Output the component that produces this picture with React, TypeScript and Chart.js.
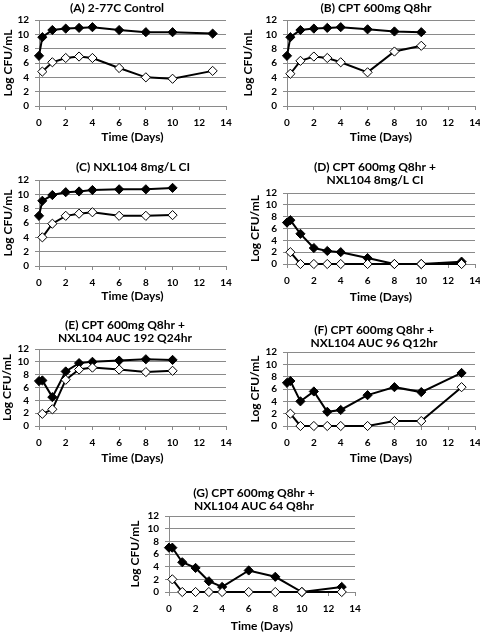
import React, { useEffect, useRef } from "react";
import { Chart, registerables } from "chart.js";

Chart.register(...registerables);

// ---------- data ----------
const daysTo13 = [0, 0.25, 1, 2, 3, 4, 6, 8, 10, 13];
const daysOpenTo13 = [0.25, 1, 2, 3, 4, 6, 8, 10, 13];
const daysTo10 = [0, 0.25, 1, 2, 3, 4, 6, 8, 10];
const daysOpenTo10 = [0.25, 1, 2, 3, 4, 6, 8, 10];

const xTicks = [0, 2, 4, 6, 8, 10, 12, 14];
const yTicks = [0, 2, 4, 6, 8, 10, 12];

const titleA = ["(A) 2-77C Control"];
const titleB = ["(B) CPT 600mg Q8hr"];
const titleC = ["(C) NXL104 8mg/L CI"];
const titleD = ["(D) CPT 600mg Q8hr +", "NXL104 8mg/L CI"];
const titleE = ["(E) CPT 600mg Q8hr +", "NXL104 AUC 192 Q24hr"];
const titleF = ["(F) CPT 600mg Q8hr +", "NXL104 AUC 96 Q12hr"];
const titleG = ["(G) CPT 600mg Q8hr +", "NXL104 AUC 64 Q8hr"];

const aFilled = [7.0, 9.6, 10.6, 10.8, 10.9, 11.0, 10.6, 10.3, 10.3, 10.1];
const aOpen = [4.8, 6.1, 6.7, 6.9, 6.7, 5.3, 4.0, 3.8, 4.9];
const bFilled = [7.0, 9.6, 10.6, 10.8, 10.9, 11.0, 10.7, 10.4, 10.3];
const bOpen = [4.5, 6.3, 6.9, 6.7, 6.1, 4.7, 7.6, 8.4];
const cFilled = [7.0, 9.1, 9.9, 10.3, 10.4, 10.6, 10.7, 10.7, 10.9];
const cOpen = [4.0, 5.9, 7.0, 7.3, 7.5, 7.0, 7.0, 7.1];
const dFilled = [7.0, 7.4, 5.1, 2.7, 2.2, 2.0, 1.0, 0, 0, 0.4];
const dOpen = [2.0, 0, 0, 0, 0, 0, 0, 0, 0];
const eFilled = [7.0, 7.1, 4.5, 8.5, 9.8, 10.0, 10.2, 10.4, 10.3];
const eOpen = [1.9, 2.6, 7.2, 8.8, 9.1, 8.8, 8.4, 8.6];
const fFilled = [7.0, 7.3, 4.0, 5.6, 2.3, 2.6, 5.0, 6.3, 5.5, 8.6];
const fOpen = [2.0, 0, 0, 0, 0, 0, 0.8, 0.8, 6.3];
const gFilled = [7.0, 7.0, 4.7, 3.8, 1.7, 0.8, 3.4, 2.4, 0, 0.8];
const gOpen = [2.0, 0, 0, 0, 0, 0, 0, 0, 0];

// ---------- layout (positions / sizes only) ----------
type PanelCfg = {
  title: string[];
  fx: number[];
  fy: number[];
  ox: number[];
  oy: number[];
  L: number; T: number; W: number; H: number;
  yw: number; padR: number; xh: number;
  tTop: number; tBot: number; yTitleTop: number; xTitleBot: number;
};

const panels: PanelCfg[] = [
  { title: titleA, fx: daysTo13, fy: aFilled, ox: daysOpenTo13, oy: aOpen,
    L: 0, T: 0, W: 234, H: 150, yw: 39, padR: 8, xh: 44, tTop: 1.5, tBot: 5.5, yTitleTop: 0.8, xTitleBot: 5.8 },
  { title: titleB, fx: daysTo10, fy: bFilled, ox: daysOpenTo10, oy: bOpen,
    L: 240, T: 0, W: 272, H: 150, yw: 47, padR: 37, xh: 44, tTop: 1.5, tBot: 5.5, yTitleTop: 0.8, xTitleBot: 5.8 },
  { title: titleC, fx: daysTo10, fy: cFilled, ox: daysOpenTo10, oy: cOpen,
    L: 0, T: 155, W: 266, H: 150, yw: 39, padR: 40, xh: 39, tTop: 5.5, tBot: 6.5, yTitleTop: 0.8, xTitleBot: 1.8 },
  { title: titleD, fx: daysTo13, fy: dFilled, ox: daysOpenTo13, oy: dOpen,
    L: 240, T: 155, W: 270, H: 150, yw: 47, padR: 35, xh: 41, tTop: 5.5, tBot: 6.5, yTitleTop: 7.8, xTitleBot: 1.1 },
  { title: titleE, fx: daysTo10, fy: eFilled, ox: daysOpenTo10, oy: eOpen,
    L: 0, T: 310, W: 250, H: 160, yw: 39, padR: 24, xh: 44, tTop: 8.5, tBot: 4.5, yTitleTop: 0.1, xTitleBot: 4.8 },
  { title: titleF, fx: daysTo13, fy: fFilled, ox: daysOpenTo13, oy: fOpen,
    L: 240, T: 310, W: 268, H: 160, yw: 47, padR: 33, xh: 44, tTop: 13.5, tBot: 2.5, yTitleTop: 7.8, xTitleBot: 4.8 },
  { title: titleG, fx: daysTo13, fy: gFilled, ox: daysOpenTo13, oy: gOpen,
    L: 120, T: 475, W: 268, H: 158, yw: 49, padR: 33, xh: 41, tTop: 11.5, tBot: 3.5, yTitleTop: 7.8, xTitleBot: 0 },
];

const FONT = 'Lato, "Open Sans", "DejaVu Sans", sans-serif';
const AXIS_GRAY = "#8a8a8a";

function zip(xs: number[], ys: number[]) {
  return ys.map((y, i) => ({ x: xs[i], y }));
}

function Panel({ cfg }: { cfg: PanelCfg }) {
  const ref = useRef<HTMLCanvasElement>(null);
  useEffect(() => {
    if (!ref.current) return;
    const chart = new Chart(ref.current, {
      type: "line",
      data: {
        datasets: [
          {
            data: zip(cfg.ox, cfg.oy),
            order: 1,
            borderColor: "#000",
            backgroundColor: "#fff",
            pointBackgroundColor: "#fff",
            pointBorderColor: "#000",
            pointStyle: "rectRot",
            pointRadius: 4.6,
            pointBorderWidth: 1,
            borderWidth: 2,
            clip: false,
          },
          {
            data: zip(cfg.fx, cfg.fy),
            order: 2,
            borderColor: "#000",
            backgroundColor: "#000",
            pointBackgroundColor: "#000",
            pointBorderColor: "#000",
            pointStyle: "rectRot",
            pointRadius: 4.6,
            pointBorderWidth: 1,
            borderWidth: 2,
            clip: false,
          },
        ],
      } as any,
      options: {
        responsive: false,
        animation: false,
        events: [],
        layout: { padding: 0 },
        plugins: {
          legend: { display: false },
          tooltip: { enabled: false },
          title: {
            display: true,
            text: cfg.title,
            color: "#000",
            font: { family: FONT, size: 12, weight: "bold", lineHeight: "13px" } as any,
            padding: { top: cfg.tTop, bottom: cfg.tBot },
          },
        },
        scales: {
          x: {
            type: "linear",
            min: 0,
            max: 14,
            afterBuildTicks: (s: any) => {
              s.ticks = xTicks.map((v) => ({ value: v }));
            },
            ticks: {
              color: "#000",
              font: { family: FONT, size: 10, weight: "bold" },
              padding: 7,
              autoSkip: false,
              maxRotation: 0,
            },
            grid: { drawOnChartArea: false, drawTicks: true, tickLength: 4, color: AXIS_GRAY },
            border: { display: true, color: AXIS_GRAY, width: 1 },
            title: {
              display: true,
              text: "Time (Days)",
              color: "#000",
              font: { family: FONT, size: 12, weight: "bold", lineHeight: 1.2 },
              padding: { top: 0, bottom: cfg.xTitleBot },
            },
            afterFit: (s: any) => {
              s.height = cfg.xh;
              s.paddingLeft = 0;
              s.paddingRight = cfg.padR;
            },
          },
          y: {
            type: "linear",
            min: 0,
            max: 12,
            afterBuildTicks: (s: any) => {
              s.ticks = yTicks.map((v) => ({ value: v }));
            },
            ticks: {
              color: "#000",
              font: { family: FONT, size: 10, weight: "bold" },
              padding: 6,
              autoSkip: false,
            },
            grid: { drawOnChartArea: true, drawTicks: true, tickLength: 4, color: AXIS_GRAY },
            border: { display: true, color: AXIS_GRAY, width: 1 },
            title: {
              display: true,
              text: "Log CFU/mL",
              color: "#000",
              font: { family: FONT, size: 12, weight: "bold", lineHeight: 1.2 },
              padding: { top: cfg.yTitleTop, bottom: 0 },
            },
            afterFit: (s: any) => {
              s.width = cfg.yw;
              s.paddingTop = 0;
              s.paddingBottom = 0;
            },
          },
        },
      } as any,
    });
    return () => chart.destroy();
  }, [cfg]);
  return (
    <canvas
      ref={ref}
      width={cfg.W}
      height={cfg.H}
      style={{ position: "absolute", left: cfg.L, top: cfg.T, width: cfg.W, height: cfg.H }}
    />
  );
}

export default function App() {
  return (
    <div
      style={{
        position: "absolute",
        left: 0,
        top: 0,
        width: 480,
        height: 633,
        overflow: "hidden",
        background: "#fff",
      }}
    >
      {panels.map((p, i) => (
        <Panel key={i} cfg={p} />
      ))}
    </div>
  );
}
